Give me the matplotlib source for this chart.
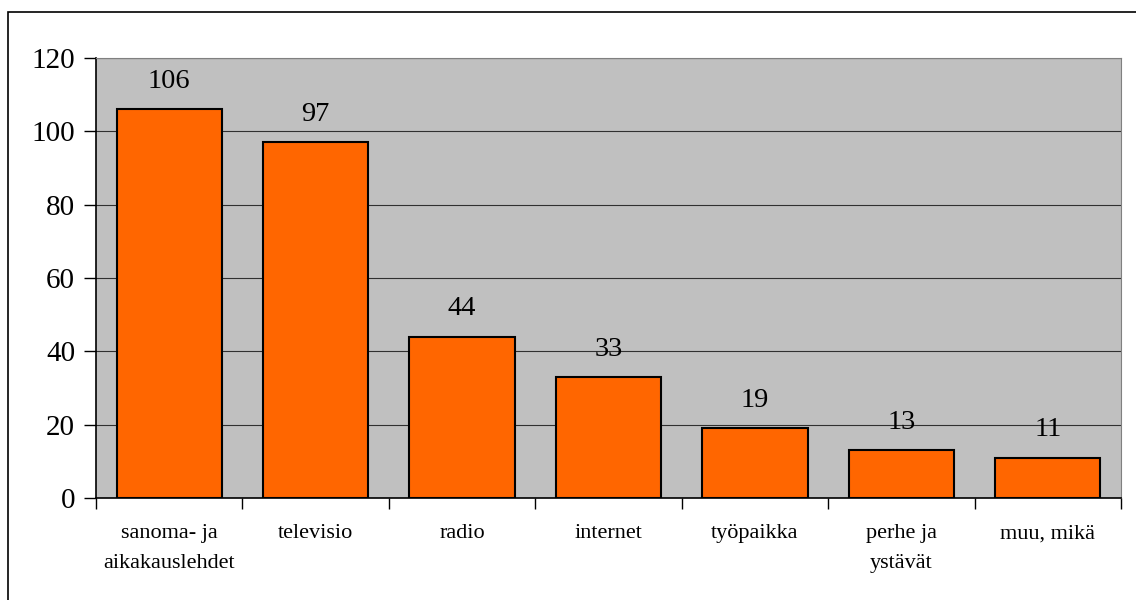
import numpy as np
import matplotlib.pyplot as plt
from matplotlib.patches import Rectangle

kategoriat = ["sanoma- ja\naikakauslehdet", "televisio", "radio", "internet",
              "työpaikka", "perhe ja\nystävät", "muu, mikä"]
arvot = [106, 97, 44, 33, 19, 13, 11]

plt.rcParams["font.family"] = ["Liberation Serif", "DejaVu Serif"]

fig = plt.figure(figsize=(11.36, 6), dpi=100)
ax = fig.add_axes([96/1136, 102/600, 1025/1136, 440/600])

#kehys koko kuvan ympärille
fig.patches.append(Rectangle((8/1136, -0.01), 1.02, 0.99, transform=fig.transFigure,
                             fill=False, edgecolor="black", linewidth=1.2))

x = np.arange(len(kategoriat))
ax.set_facecolor("#C0C0C0")
ax.bar(x, arvot, width=0.72, color="#FF6600", edgecolor="black", linewidth=1.5, zorder=3)

for xi, v in zip(x, arvot):
    ax.annotate(str(v), (xi, v), xytext=(0, 11), textcoords="offset points",
                ha="center", va="bottom", fontsize=20.5, zorder=4)

ax.set_xlim(-0.5, len(kategoriat) - 0.5)
ax.set_ylim(0, 120)
ax.set_yticks(range(0, 121, 20))
ax.yaxis.grid(True, color="#303030", linewidth=0.8, zorder=1)
ax.set_axisbelow(True)

ax.set_xticks(x)
ax.set_xticklabels(kategoriat, fontsize=16, linespacing=1.75)
ax.set_xticks(np.arange(-0.5, len(kategoriat)), minor=True)
ax.tick_params(axis="x", which="major", length=0, pad=19)
ax.tick_params(axis="x", which="minor", length=8, width=1, direction="out")
ax.tick_params(axis="y", labelsize=21, length=9, width=1, pad=6)

ax.spines["top"].set_color("#808080")
ax.spines["right"].set_color("#808080")
ax.spines["left"].set_linewidth(1.2)
ax.spines["bottom"].set_linewidth(1.2)

fig.savefig("out.png", dpi=100)
